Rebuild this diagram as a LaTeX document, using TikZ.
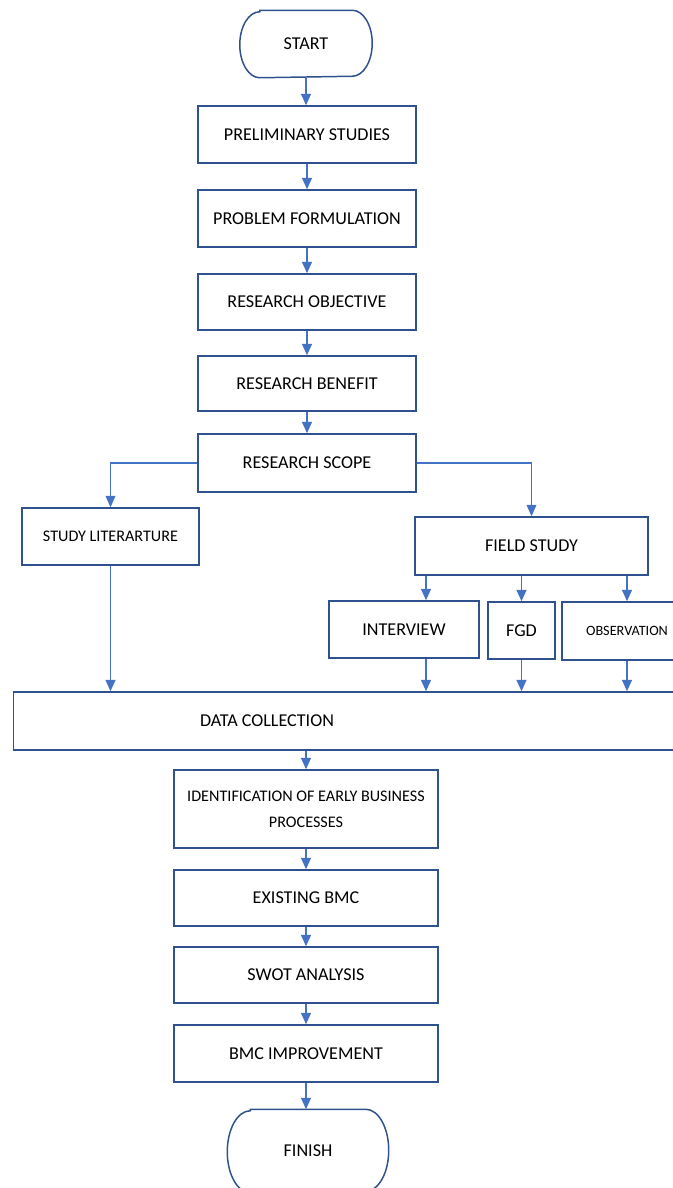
\documentclass[tikz,border=0pt]{standalone}
\usepackage{fontspec}
\setmainfont{Carlito}
\usetikzlibrary{arrows.meta}
\definecolor{boxblue}{HTML}{2F528F}
\definecolor{lineblue}{HTML}{4472C4}
\tikzset{
    box/.style={draw=boxblue, line width=0.85pt, rectangle, inner sep=2pt, align=center, font=\fontsize{10.3}{12}\selectfont},
    smallbox/.style={box, font=\fontsize{9.2}{14.8}\selectfont},
    term/.style={box, draw=none},
    outline/.style={draw=boxblue, line width=0.85pt},
    flow/.style={draw=lineblue, line width=1pt, -{Triangle[length=6.5pt,width=5.6pt]}},
    branch/.style={flow, line width=0.6pt}
}

\begin{document}
\begin{tikzpicture}[x=0.02cm, y=-0.02cm]
        \useasboundingbox (0,0) rectangle (673,1188);
        \node[term, minimum width=2.62cm, minimum height=1.32cm](start) at (306,44) {START};
        \draw[outline]([xshift=0.4cm]start.north west) -- ([xshift=-0.4cm]start.north east) arc[start angle=90, end angle=-90, x radius=0.4cm, y radius=0.66cm] -- ([xshift=0.4cm]start.south west) arc[start angle=270, end angle=90, x radius=0.4cm, y radius=0.66cm] -- cycle;
        \node[box, minimum width=4.36cm, minimum height=1.14cm](prelim) at (307,134.5) {PRELIMINARY STUDIES};
        \node[box, minimum width=4.36cm, minimum height=1.14cm](formulation) at (307,218.5) {PROBLEM FORMULATION};
        \node[box, minimum width=4.36cm, minimum height=1.12cm](objective) at (307,302) {RESEARCH OBJECTIVE};
        \node[box, minimum width=4.36cm, minimum height=1.10cm](benefit) at (307,383.5) {RESEARCH BENEFIT};
        \node[box, minimum width=4.36cm, minimum height=1.16cm](scope) at (307,463) {RESEARCH SCOPE};
        \node[smallbox, minimum width=3.54cm, minimum height=1.14cm](literature) at (110.5,536.5) {STUDY LITERARTURE};
        \node[box, minimum width=4.66cm, minimum height=1.16cm](field) at (531.5,546) {FIELD STUDY};
        \node[box, minimum width=3.0cm, minimum height=1.14cm](interview) at (404,629.5) {INTERVIEW};
        \node[box, minimum width=1.34cm, minimum height=1.14cm](fgd) at (521.5,630.5) {FGD};
        \node[box, minimum width=2.6cm, minimum height=1.16cm, font=\fontsize{8.1}{10}\selectfont](observation) at (627,631) {OBSERVATION};
        \node[box, minimum width=14cm, minimum height=1.16cm, anchor=west](collect) at (13,721) {};
        \node[font=\fontsize{10.3}{12}\selectfont](collecttext) at (267,721) {DATA COLLECTION};
        \node[smallbox, minimum width=5.28cm, minimum height=1.56cm](identify) at (306,809) {IDENTIFICATION OF EARLY BUSINESS\\PROCESSES};
        \node[box, minimum width=5.28cm, minimum height=1.12cm](existing) at (306,898) {EXISTING BMC};
        \node[box, minimum width=5.28cm, minimum height=1.12cm](swot) at (306,975) {SWOT ANALYSIS};
        \node[box, minimum width=5.28cm, minimum height=1.14cm](improve) at (306,1053.5) {BMC IMPROVEMENT};
        \node[term, minimum width=3.2cm, minimum height=1.64cm](finish) at (308,1151) {FINISH};
        \draw[outline]([xshift=0.46cm]finish.north west) -- ([xshift=-0.46cm]finish.north east) arc[start angle=90, end angle=-90, x radius=0.46cm, y radius=0.82cm] -- ([xshift=0.46cm]finish.south west) arc[start angle=270, end angle=90, x radius=0.46cm, y radius=0.82cm] -- cycle;
        \coordinate (intx) at (426,0);
        \draw[flow](start.south) -- (start.south |- prelim.north);
        \draw[flow](prelim.south) -- (formulation.north);
        \draw[flow](formulation.south) -- (objective.north);
        \draw[flow](objective.south) -- (benefit.north);
        \draw[flow](benefit.south) -- (scope.north);
        \draw[branch](scope.west) -| (literature.north);
        \draw[branch](scope.east) -| (field.north);
        \draw[flow](field.south -| intx) -- (interview.north -| intx);
        \draw[flow](field.south -| fgd.north) -- (fgd.north);
        \draw[flow](field.south -| observation.north) -- (observation.north);
        \draw[flow](literature.south) -- (literature.south |- collect.north);
        \draw[flow](interview.south -| intx) -- (collect.north -| intx);
        \draw[flow](fgd.south) -- (fgd.south |- collect.north);
        \draw[flow](observation.south) -- (observation.south |- collect.north);
        \draw[flow](collect.south -| identify.north) -- (identify.north);
        \draw[flow](identify.south) -- (existing.north);
        \draw[flow](existing.south) -- (swot.north);
        \draw[flow](swot.south) -- (improve.north);
        \draw[flow](improve.south) -- (improve.south |- finish.north);
    \end{tikzpicture}
\end{document}
